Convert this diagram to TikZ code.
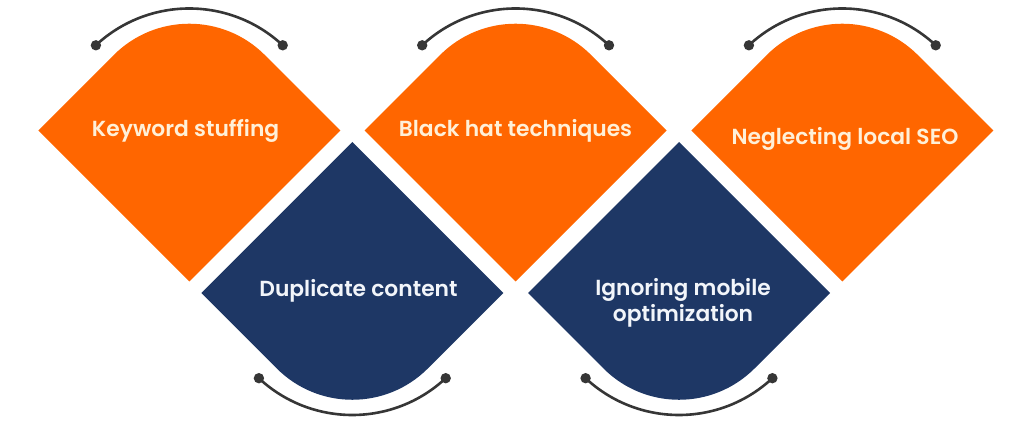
\documentclass[tikz,border=0pt]{standalone}
\usepackage{fontspec}
\newfontfamily\cardfont{Poppins SemiBold}
\usepackage{xcolor}
\definecolor{seoorange}{HTML}{FF6600}
\definecolor{seonavy}{HTML}{1E3765}
\definecolor{seocream}{HTML}{FFF0D8}
\definecolor{seowhite}{HTML}{F2F5FA}
\definecolor{arcgray}{HTML}{363636}
\tikzset{
  cardtext/.style={font=\cardfont\fontsize{21.8}{25.5}\selectfont, align=center, inner sep=0pt},
  ontop/.style={cardtext, text=seocream},
  onbottom/.style={cardtext, text=seowhite},
  bracket/.style={draw=arcgray, line width=2.6pt},
  knob/.style={fill=arcgray},
}
\begin{document}
\begin{tikzpicture}[x=1pt,y=1pt]
  \useasboundingbox (0,0) rectangle (1024,427);
  % orange cards, rounded at the top
  \foreach \cx in {189.3, 515.6, 842.3} {
    \fill[seoorange] (\cx-151,296.5) -- (\cx,145.5) -- (\cx+151,296.5) -- (\cx+75.5,372)
      arc[start angle=45, end angle=135, radius=106.77] -- cycle;
    \draw[bracket] (\cx+93.4,381.7) arc[start angle=47, end angle=133, radius=137];
    \fill[knob] (\cx+93.4,381.7) circle[radius=5.2];
    \fill[knob] (\cx-93.4,381.7) circle[radius=5.2];
  }
  % navy cards, rounded at the bottom
  \foreach \cx in {352.3, 679} {
    \fill[seonavy] (\cx-151,134) -- (\cx,285) -- (\cx+151,134) -- (\cx+75.5,58.5)
      arc[start angle=-45, end angle=-135, radius=106.77] -- cycle;
    \draw[bracket] (\cx+93.4,48.8) arc[start angle=-47, end angle=-133, radius=137];
    \fill[knob] (\cx+93.4,48.8) circle[radius=5.2];
    \fill[knob] (\cx-93.4,48.8) circle[radius=5.2];
  }
  \node[ontop] (kw) at (185.6,296) {Keyword stuffing};
  \node[onbottom] (dup) at (358.5,136) {Duplicate content};
  \node[ontop] (bh) at (515.5,296) {Black hat techniques};
  \node[onbottom] (mob) at (683,124) {Ignoring mobile\\optimization};
  \node[ontop] (loc) at (845,288) {Neglecting local SEO};
\end{tikzpicture}
\end{document}
